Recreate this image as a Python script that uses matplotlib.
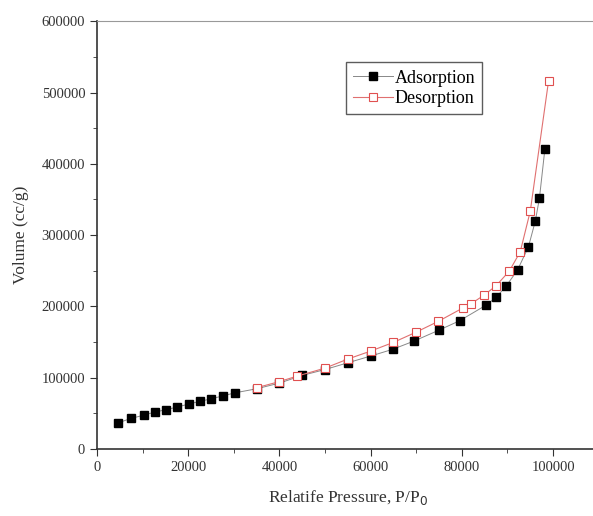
import matplotlib.pyplot as plt
from matplotlib.ticker import MultipleLocator

# adsorption branch (filled squares)
ads_x = [4700, 7500, 10400, 12700, 15100, 17600, 20100, 22600, 25100, 27700, 30300,
         35000, 40000, 45000, 50000, 55000, 60000, 64800, 69500, 75000, 79500,
         85200, 87500, 89700, 92200, 94600, 96100, 97000, 98200]
ads_y = [36900, 43000, 47700, 51900, 55100, 58900, 63100, 66900, 70500, 74700, 78900,
         84500, 92500, 103300, 111500, 121000, 130400, 139800, 151400, 166800, 179900,
         201400, 212600, 228500, 251000, 283700, 319700, 351500, 420600]

# desorption branch (open squares)
des_x = [35000, 39900, 43900, 50000, 55000, 60000, 65000, 70000, 74800, 80300,
         81900, 84900, 87500, 90400, 92800, 95000, 99000]
des_y = [86000, 94400, 102300, 113500, 126200, 137400, 149600, 164000, 179000, 198100,
         203300, 216000, 229000, 249600, 276700, 333700, 516000]

plt.rcParams['font.family'] = ['Liberation Serif', 'DejaVu Serif']

fig = plt.figure(figsize=(5.93, 5.16), dpi=100)
ax = fig.add_axes([0.1636, 0.1298, 0.846, 0.829])

ax.plot(ads_x, ads_y, color='#888888', lw=0.7, marker='s', ms=6,
        mfc='black', mec='black', label='Adsorption')
ax.plot(des_x, des_y, color='#e07070', lw=0.8, marker='s', ms=6,
        mfc='white', mec='#e05050', mew=0.8, label='Desorption')

ax.set_xlim(0, 110000)
ax.set_ylim(0, 600000)
ax.xaxis.set_major_locator(MultipleLocator(20000))
ax.xaxis.set_minor_locator(MultipleLocator(10000))
ax.yaxis.set_major_locator(MultipleLocator(100000))
ax.yaxis.set_minor_locator(MultipleLocator(50000))
ax.tick_params(which='both', direction='out', colors='#333333', labelsize=10.5)
ax.tick_params(which='major', length=5)
ax.tick_params(which='minor', length=3)

for s in ['left', 'bottom']:
    ax.spines[s].set_color('#333333')
    ax.spines[s].set_linewidth(1.2)
ax.spines['top'].set_color('#999999')
ax.spines['top'].set_linewidth(0.8)
ax.spines['right'].set_visible(False)

ax.set_xlabel('Relatife Pressure, P/P$_0$', fontsize=12.5, color='#333333', labelpad=10)
ax.set_ylabel('Volume (cc/g)', fontsize=12.5, color='#333333', labelpad=9)

ax.legend(loc='upper left', bbox_to_anchor=(0.496, 0.904), borderaxespad=0,
          fontsize=13, frameon=True, fancybox=False, edgecolor='#333333',
          handlelength=2.2, handletextpad=0.1, borderpad=0.4, labelspacing=0.2)

fig.savefig('out.png', dpi=100)
